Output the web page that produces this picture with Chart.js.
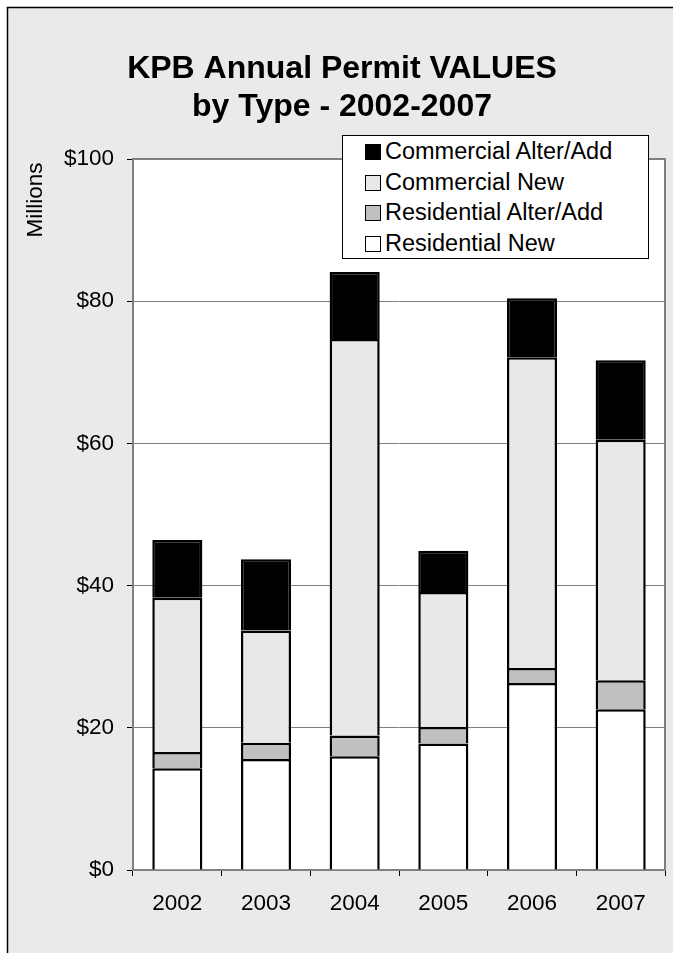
<!DOCTYPE html>
<html>
<head>
<meta charset="utf-8">
<script src="https://cdn.jsdelivr.net/npm/chart.js@4"></script>
<style>
body{margin:0;background:#fff;}
#wrap{position:relative;width:673px;height:953px;}
#legend{position:absolute;left:342px;top:135px;width:305px;height:122px;background:#fff;border:1px solid #000;
font-family:"Liberation Sans",Arial,sans-serif;font-size:23.5px;color:#000;}
.row{height:30.5px;line-height:30.5px;white-space:nowrap;}
.box{display:inline-block;width:14px;height:14px;border:1.5px solid #000;margin-left:22px;margin-right:4px;vertical-align:-1px;}
</style>
</head>
<body>
<div id="wrap">
<canvas id="permitChart" width="673" height="953"></canvas>
<div id="legend"></div>
</div>
<script>

// permit values, millions of dollars
const years = ["2002","2003","2004","2005","2006","2007"];

const residentialNew = [14.3, 15.6, 16.0, 17.8, 26.3, 22.6];
const residentialAlter = [2.3, 2.3, 2.9, 2.3, 2.1, 4.1];
const commercialNew = [21.7, 15.8, 55.8, 19.0, 43.7, 33.8];
const commercialAlter = [8.1, 10.0, 9.4, 5.8, 8.3, 11.2];

const yTicks = [0, 20, 40, 60, 80, 100];

const titleLines = ["KPB Annual Permit VALUES", "by Type - 2002-2007"];

const fontName = '"Liberation Sans", Arial, sans-serif';

const seriesList = [
  {label:"Residential New", data:residentialNew, color:"#ffffff"},
  {label:"Residential Alter/Add", data:residentialAlter, color:"#c0c0c0"},
  {label:"Commercial New", data:commercialNew, color:"#e8e8e8"},
  {label:"Commercial Alter/Add", data:commercialAlter, color:"#000000"}
];

// background, frame, title and the Millions label
const decor = {
  id:'decor',
  beforeDraw(chart){
    const c = chart.ctx;
    const a = chart.chartArea;
    c.save();
    c.fillStyle = '#fff';
    c.fillRect(0,0,chart.width,chart.height);
    c.fillStyle = '#eaeaea';
    c.fillRect(7,7,chart.width,chart.height);
    c.strokeStyle = '#000';
    c.lineWidth = 1.5;
    c.beginPath();
    c.moveTo(7.5,chart.height+5);
    c.lineTo(7.5,7.5);
    c.lineTo(chart.width+5,7.5);
    c.stroke();
    c.fillStyle = '#fff';
    c.fillRect(a.left,a.top,a.right-a.left,a.bottom-a.top);

    c.fillStyle = '#000';
    c.textAlign = 'center';
    c.textBaseline = 'middle';
    c.font = 'bold 32px ' + fontName;
    c.fillText(titleLines[0], 342, 69);
    c.fillText(titleLines[1], 342, 107);

    c.translate(36, 200);
    c.rotate(-Math.PI/2);
    c.font = '22.5px ' + fontName;
    c.fillText("Millions", 0, 0);
    c.restore();
  },
  beforeDatasetsDraw(chart){
    const c = chart.ctx;
    const a = chart.chartArea;
    c.save();
    c.strokeStyle = '#808080';
    c.lineWidth = 2;
    c.strokeRect(a.left,a.top,a.right-a.left,a.bottom-a.top);
    c.restore();
  }
};

const chart = new Chart(document.getElementById('permitChart'),{
  type:'bar',
  data:{
    labels:years,
    datasets:seriesList.map(s => ({
      label:s.label,
      data:s.data,
      backgroundColor:s.color,
      borderColor:'#000',
      borderWidth:2.5,
      barPercentage:0.565,
      categoryPercentage:1
    }))
  },
  options:{
    responsive:false,
    animation:false,
    devicePixelRatio:1,
    layout:{padding:{left:0,top:159,right:8,bottom:0}},
    plugins:{legend:{display:false},title:{display:false},tooltip:{enabled:false}},
    scales:{
      x:{
        stacked:true,
        afterFit(s){ s.height = 83; },
        grid:{drawOnChartArea:false,drawTicks:true,tickLength:6,tickColor:'#000',offset:true},
        border:{color:'#000',width:1},
        ticks:{color:'#000',font:{family:fontName,size:22.5},padding:14,maxRotation:0}
      },
      y:{
        stacked:true,
        min:0,
        max:100,
        afterFit(s){ s.width = 133; },
        afterBuildTicks(s){ s.ticks = yTicks.map(v => ({value:v})); },
        grid:{color:'#808080',lineWidth:1,tickLength:6,tickColor:'#000'},
        border:{color:'#000',width:1},
        ticks:{color:'#000',font:{family:fontName,size:22.5},padding:13,callback:v => '$' + v}
      }
    }
  },
  plugins:[decor]
});

// legend box, top series first like the original
const legendBox = document.getElementById('legend');
seriesList.slice().reverse().forEach(s => {
  const row = document.createElement('div');
  row.className = 'row';
  const sw = document.createElement('span');
  sw.className = 'box';
  sw.style.background = s.color;
  row.appendChild(sw);
  row.appendChild(document.createTextNode(s.label));
  legendBox.appendChild(row);
});

</script>
</body>
</html>
